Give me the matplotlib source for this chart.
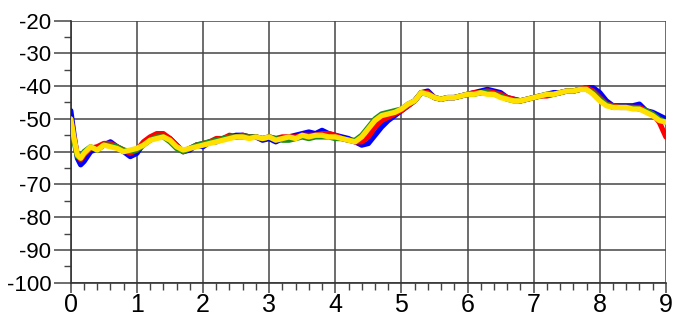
import numpy as np
import matplotlib
matplotlib.use("Agg")
import matplotlib.pyplot as plt
from matplotlib.ticker import MultipleLocator

plt.rcParams['font.family'] = ['Liberation Sans', 'DejaVu Sans']
plt.rcParams['axes.unicode_minus'] = False

# sample positions (finer over the initial drop)
x = np.array([0.0, 0.05, 0.1, 0.15] + [round(0.2 + 0.1 * i, 1) for i in range(89)])

blue = [-47.5, -55, -62, -64,
        -63, -60, -59, -58, -57, -58.5, -60, -61.5, -60.5, -57.5,
        -56, -55.5, -55, -56, -58, -60, -59.5, -58, -58.5, -57,
        -57, -56, -55.5, -55, -55, -55.5, -55.5, -56.5, -56, -57,
        -56, -55.5, -55, -54.5, -54, -54.5, -53.5, -54.5, -55, -55.5,
        -56, -57, -58, -57.5, -55, -52.5, -50.5, -49, -47.5, -46,
        -44.5, -42, -41.5, -43.5, -44, -43.5, -43.5, -43, -42.5, -42,
        -41.5, -41, -41.5, -42, -43.5, -44, -44.5, -44, -43.5, -43,
        -42.5, -42, -42, -41.5, -41.5, -41, -40.5, -40.5, -42, -44.5,
        -46, -46, -46, -46, -45.5, -47.5, -48, -49, -50]

red = [-50, -56, -61, -62.5,
       -61, -59, -58.5, -57.5, -57.5, -58.5, -59.5, -60.5, -59.5, -57,
       -55.5, -54.5, -54.5, -56, -58, -60, -59, -58, -57.5, -57,
       -56, -56, -55, -55.5, -55, -55.5, -55.5, -56, -55.5, -56,
       -55.5, -55.5, -55.5, -55, -55, -55, -54.5, -54.5, -55, -56,
       -56.5, -57, -57, -55.5, -52.5, -50.5, -49.5, -48.5, -47.5, -46,
       -44.5, -42, -42, -43.5, -44, -43.5, -43.5, -43, -42.5, -42,
       -42, -41.5, -42, -42.5, -43.5, -44, -44.5, -44, -43.5, -43,
       -43, -42.5, -42, -41.5, -41.5, -41, -40.5, -41.5, -43.5, -45.5,
       -46, -46.5, -46.5, -46.5, -46.5, -47.5, -48.5, -51, -55.5]

green = [-51, -57, -61.5, -62,
         -60, -58.5, -59.5, -58, -58, -58.5, -59.5, -60, -59.5, -58,
         -56.5, -55.5, -55.5, -57, -59, -60, -59, -58, -57.5, -57,
         -56.5, -56, -55.5, -55.5, -55.5, -55.5, -55.5, -56, -55.5, -56,
         -56.5, -56.5, -56, -55.5, -56, -55.5, -55.5, -55.5, -56, -56,
         -56.5, -56.5, -55, -52.5, -50, -48.5, -48, -47.5, -47, -45.5,
         -44.5, -42, -42.5, -43.5, -44, -43.5, -43.5, -43, -42.5, -42.5,
         -42, -42, -42.5, -43, -44, -44.5, -44.5, -44, -43.5, -43,
         -42.5, -42.5, -42, -41.5, -41.5, -41, -41, -42, -44, -45.5,
         -46.5, -46.5, -46.5, -46.5, -47, -47.5, -48.5, -50, -51]

yellow = [-50, -56, -61, -62,
          -60.5, -58.5, -59.5, -58, -58.5, -59, -60, -59.5, -59, -58,
          -56.5, -56, -55.5, -56.5, -58.5, -59.5, -59, -58.5, -58, -57.5,
          -57, -56.5, -56, -55.5, -55.5, -56, -55.5, -56, -55.5, -56.5,
          -56, -55.5, -56, -55, -55.5, -55, -55, -55.5, -55.5, -56,
          -56.5, -57, -55.5, -53, -50.5, -49, -48.5, -48, -47, -45.5,
          -44.5, -42, -42.5, -43.5, -44, -43.5, -43.5, -43, -42.5, -42.5,
          -42, -42.5, -42.5, -43.5, -44, -44.5, -44.5, -44, -43.5, -43,
          -42.5, -42.5, -42, -41.5, -41.5, -41, -41, -42.5, -44.5, -46,
          -46.5, -46.5, -46.5, -47, -47, -48, -49, -50.5, -51]

series = [(blue, '#0000ff'), (red, '#ff0000'), (green, '#1e8c1e'), (yellow, '#ffe000')]

fig = plt.figure(figsize=(6.74, 3.21), dpi=100)
ax = fig.add_axes([0.105, 0.119, 0.883, 0.817])

for vals, col in series:
    ax.plot(x, vals, color=col, lw=3.8, solid_capstyle='round', solid_joinstyle='round', zorder=3)

ax.set_xlim(0, 9)
ax.set_ylim(-100, -20)
ax.xaxis.set_major_locator(MultipleLocator(1))
ax.xaxis.set_minor_locator(MultipleLocator(0.2))
ax.yaxis.set_major_locator(MultipleLocator(10))
ax.yaxis.set_minor_locator(MultipleLocator(5))

ax.grid(True, which='major', color='#454545', lw=1.1, zorder=1)
ax.tick_params(axis='y', which='major', length=12, width=1.1, color='#454545', labelsize=16, pad=2)
ax.tick_params(axis='y', which='minor', length=5, width=1.0, color='#454545')
ax.tick_params(axis='x', which='major', length=7, width=1.1, color='#454545', labelsize=18, pad=0)
ax.tick_params(axis='x', which='minor', length=5, width=1.0, color='#454545')

for side in ['top', 'right']:
    ax.spines[side].set_visible(False)
for side in ['left', 'bottom']:
    ax.spines[side].set_color('#333333')
    ax.spines[side].set_linewidth(1.2)

fig.savefig('out.png', dpi=100, facecolor='white')
